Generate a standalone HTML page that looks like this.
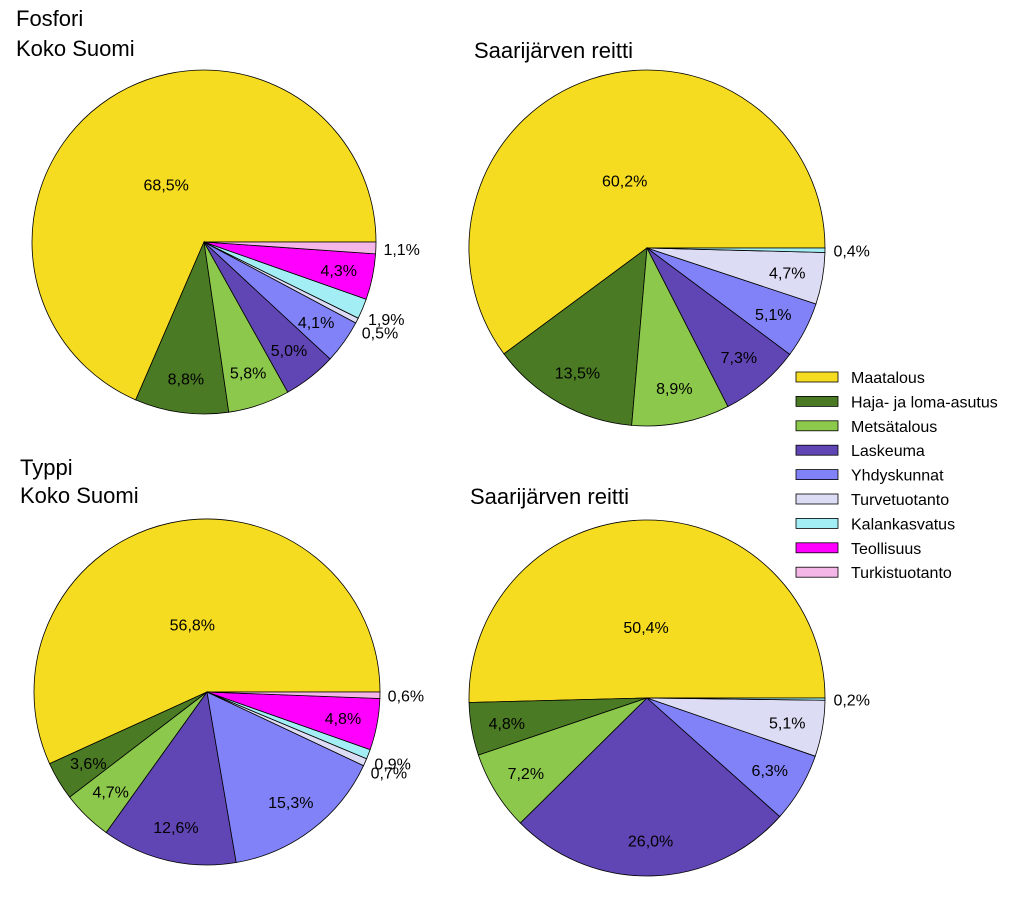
<!DOCTYPE html>
<html><head><meta charset="utf-8">
<style>
html,body{margin:0;padding:0;background:#fff;}
svg{display:block;font-family:"Liberation Sans",sans-serif;}
</style></head>
<body>
<svg id="chart" width="1024" height="908" viewBox="0 0 1024 908">
<text x="16" y="26" font-size="22">Fosfori</text>
<text x="16" y="56" font-size="22">Koko Suomi</text>
<text x="474" y="58" font-size="22">Saarijärven reitti</text>
<text x="20" y="475" font-size="22">Typpi</text>
<text x="20" y="503" font-size="22">Koko Suomi</text>
<text x="470" y="504" font-size="22">Saarijärven reitti</text>
<g id="legend"></g>
</svg>
<script>
const categories = ["Maatalous","Haja- ja loma-asutus","Metsätalous","Laskeuma","Yhdyskunnat","Turvetuotanto","Kalankasvatus","Teollisuus","Turkistuotanto"];
const fosforiKoko = [68.5, 8.8, 5.8, 5.0, 4.1, 0.5, 1.9, 4.3, 1.1];
const fosforiSaari = [60.2, 13.5, 8.9, 7.3, 5.1, 4.7, 0.4, 0, 0];
const typpiKoko = [56.8, 3.6, 4.7, 12.6, 15.3, 0.7, 0.9, 4.8, 0.6];
const typpiSaari = [50.4, 4.8, 7.2, 26.0, 6.3, 5.1, 0.2, 0, 0];
const colors = ["#f6dc20","#4b7a24","#8cc84c","#6046b4","#8282f8","#dcdcf4","#a2eef4","#ff00ff","#f4b6e6"];
const NS = "http://www.w3.org/2000/svg";
const svg = document.getElementById("chart");

function fmt(v){ return v.toFixed(1).replace(".", ",") + "%"; }

function drawPie(values, cx, cy, r, name){
  const g = document.createElementNS(NS,"g");
  
  
  svg.appendChild(g);
  const total = values.reduce((a,b)=>a+b,0);
  let cum = 0;
  values.forEach((v,i)=>{
    if (v <= 0) return;
    const a0 = cum/total*2*Math.PI;
    cum += v;
    const a1 = cum/total*2*Math.PI;
    const x0 = cx + r*Math.cos(a0), y0 = cy - r*Math.sin(a0);
    const x1 = cx + r*Math.cos(a1), y1 = cy - r*Math.sin(a1);
    const large = (a1-a0) > Math.PI ? 1 : 0;
    const p = document.createElementNS(NS,"path");
    p.setAttribute("d", `M${cx},${cy} L${x0},${y0} A${r},${r} 0 ${large} 0 ${x1},${y1} Z`);
    p.setAttribute("fill", colors[i]);
    p.setAttribute("stroke", "#000");
    p.setAttribute("stroke-width", "0.8");
    
    
    g.appendChild(p);
    const am = (a0+a1)/2;
    const pct = v/total*100;
    let f = pct > 40 ? 0.4 : (pct >= 3.5 ? 0.8 : 1.15);
    const lx = cx + r*f*Math.cos(am), ly = cy - r*f*Math.sin(am);
    const t = document.createElementNS(NS,"text");
    t.setAttribute("x", lx);
    t.setAttribute("y", ly + 6);
    t.setAttribute("text-anchor","middle");
    t.setAttribute("font-size","16");
    t.textContent = fmt(v);
    
    
    g.appendChild(t);
  });
}
drawPie(fosforiKoko, 204, 242, 172, "pie-fosfori-koko-suomi");
drawPie(fosforiSaari, 647, 248, 178, "pie-fosfori-saarijarvi");
drawPie(typpiKoko, 207, 692, 173, "pie-typpi-koko-suomi");
drawPie(typpiSaari, 647, 698, 178, "pie-typpi-saarijarvi");

const lg = document.getElementById("legend");
categories.forEach((c,i)=>{
  const y = 377 + i*24.4;
  const r = document.createElementNS(NS,"rect");
  r.setAttribute("x",796); r.setAttribute("y",y-5);
  r.setAttribute("width",42); r.setAttribute("height",10);
  r.setAttribute("fill",colors[i]); r.setAttribute("stroke","#000"); r.setAttribute("stroke-width","0.8");
  
  
  lg.appendChild(r);
  const t = document.createElementNS(NS,"text");
  t.setAttribute("x",851); t.setAttribute("y",y+6);
  t.setAttribute("font-size","16");
  t.textContent = c;
  
  
  lg.appendChild(t);
});
</script>
</body></html>
